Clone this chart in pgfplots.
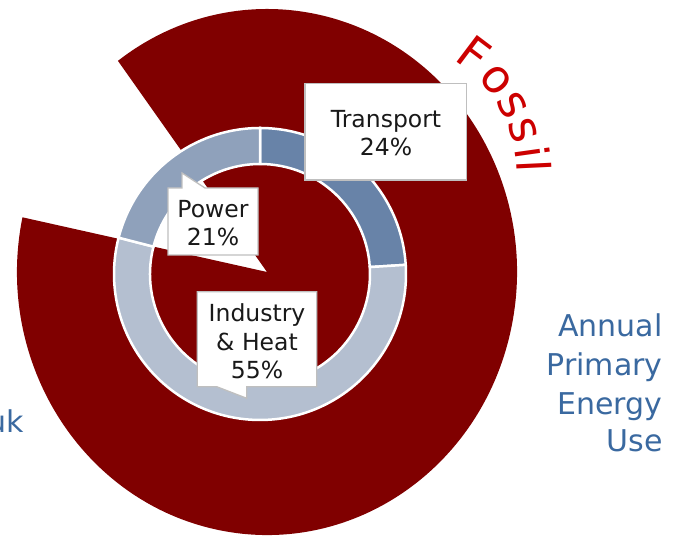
\documentclass[border=0pt]{standalone}
\usepackage{fontspec}
\setmainfont{DejaVu Sans}
\usepackage{pgfplots}
\usepackage{pgfplotstable}
\pgfplotsset{compat=1.18}
\definecolor{fossilred}{HTML}{800000}
\definecolor{transC}{HTML}{6883A8}
\definecolor{indC}{HTML}{B4BFD0}
\definecolor{powC}{HTML}{8FA1BB}
\definecolor{labblue}{HTML}{3A69A0}
\definecolor{fossiltxt}{HTML}{CC0000}
\definecolor{boxgray}{HTML}{BFBFBF}

\pgfplotstableread{
sector share colour
Transport 24 transC
Industry 55 indC
Power 21 powC
}\innertable
\pgfplotstableread{
sector share
Fossil 88.5
Other 11.5
}\outertable

\begin{document}
\begin{tikzpicture}
\useasboundingbox (0,0) rectangle (684pt,537pt);
\clip (0,0) rectangle (684pt,537pt);
\begin{axis}[at={(0,0)}, anchor=south west, scale only axis,
  width=684pt, height=537pt, xmin=0, xmax=684, ymin=0, ymax=537,
  enlargelimits=false, hide axis, clip=false]
% outer pie (fossil share)
\pgfplotstablegetelem{0}{share}\of\outertable
\pgfmathsetmacro{\fosEnd}{168+3.6*\pgfplotsretval}
\edef\temp{\noexpand\fill[fossilred] (axis cs:267,265) -- ++(168:250pt and 263pt) arc[start angle=168, end angle=\fosEnd, x radius=250pt, y radius=263pt] -- cycle;}
\temp
% inner donut
\gdef\cum{90}
\pgfplotsforeachungrouped \i in {0,1,2}{%
 \pgfplotstablegetelem{\i}{share}\of\innertable \let\sh=\pgfplotsretval
 \pgfplotstablegetelem{\i}{colour}\of\innertable \let\col=\pgfplotsretval
 \pgfmathsetmacro{\angA}{\cum}%
 \pgfmathsetmacro{\angB}{\cum-3.6*\sh}%
 \edef\temp{\noexpand\fill[\col, draw=white, line width=2.5pt] (axis cs:260,263) ++(\angA:110pt) -- ++(\angA:36pt) arc[start angle=\angA, end angle=\angB, radius=146pt] -- ++(\angB:-36pt) arc[start angle=\angB, end angle=\angA, radius=110pt] -- cycle;}%
 \temp
 \xdef\cum{\angB}%
}
% callout boxes
\draw[boxgray, fill=white, line width=1.3pt] (axis cs:305,453.7) rectangle (axis cs:466.7,357);
\draw[boxgray, fill=white, line width=1.3pt, line join=miter] (axis cs:168,282) -- (axis cs:168,349) -- (axis cs:182,349) -- (axis cs:182,364) -- (axis cs:205,349) -- (axis cs:258,349) -- (axis cs:258,282) -- cycle;
\draw[boxgray, fill=white, line width=1.3pt, line join=miter] (axis cs:197.3,245.3) -- (axis cs:316.7,245.3) -- (axis cs:316.7,150.3) -- (axis cs:246.7,150.3) -- (axis cs:246.7,138.7) -- (axis cs:216.7,150.3) -- (axis cs:197.3,150.3) -- cycle;
% labels
\node[align=center, font=\fontsize{23.5}{28.5}\selectfont, text=black!90] at (axis cs:386,404) {Transport\\24\%};
\node[align=center, font=\fontsize{23.5}{28.5}\selectfont, text=black!90] at (axis cs:213,314) {Power\\21\%};
\node[align=center, font=\fontsize{23.5}{28.5}\selectfont, text=black!90] at (axis cs:257,195.3) {Industry\\\&~Heat\\55\%};
% side texts
\node[anchor=base east, text=labblue, font=\fontsize{30}{36}\selectfont] at (axis cs:666,200.3) {Annual};
\node[anchor=base east, text=labblue, font=\fontsize{30}{36}\selectfont] at (axis cs:666,161) {Primary};
\node[anchor=base east, text=labblue, font=\fontsize{30}{36}\selectfont] at (axis cs:666,122) {Energy};
\node[anchor=base east, text=labblue, font=\fontsize{30}{36}\selectfont] at (axis cs:666,85.3) {Use};
\node[anchor=base east, text=labblue, font=\fontsize{30}{36}\selectfont] at (axis cs:27,104) {uk};
% Fossil along an arc
\foreach \ang/\ch in {53/F,40/o,28/s,17/s,8/i,2.7/l}{
  \edef\temp{\noexpand\path (axis cs:385,364) ++(\ang:132pt) node[anchor=base, inner sep=0pt, rotate=\ang-90, text=fossiltxt, font=\noexpand\fontsize{46}{50}\noexpand\selectfont] {\ch};}
  \temp
}
\end{axis}
\end{tikzpicture}
\end{document}
